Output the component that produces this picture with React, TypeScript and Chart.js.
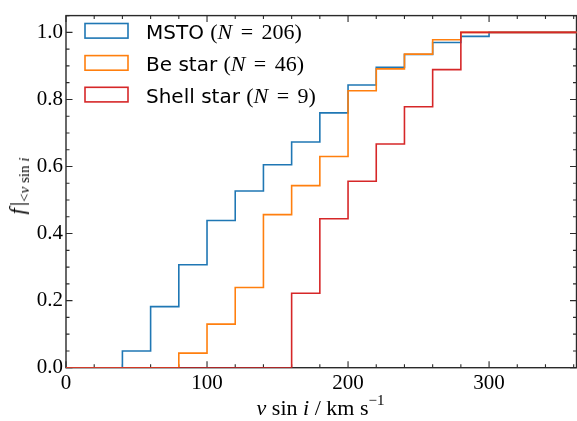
import React, { useEffect, useRef } from "react";
import { Chart, registerables } from "chart.js";

Chart.register(...registerables);

// Bin edges (km/s) of the cumulative histograms
const binEdges = [0, 20, 40, 60, 80, 100, 120, 140, 160, 180, 200, 220, 240, 260, 280, 300, 320, 340, 360, 380];
// Cumulative fraction in each bin [edge_i, edge_i+1)
const mstoFrac = [0, 0, 0.05, 0.182, 0.307, 0.439, 0.527, 0.605, 0.673, 0.76, 0.843, 0.896, 0.934, 0.97, 0.988, 1, 1, 1, 1];
const beFrac = [0, 0, 0, 0, 0.0435, 0.13, 0.239, 0.4565, 0.543, 0.63, 0.826, 0.891, 0.935, 0.978, 1, 1, 1, 1, 1];
const shellFrac = [0, 0, 0, 0, 0, 0, 0, 0, 0.222, 0.444, 0.556, 0.667, 0.778, 0.889, 1, 1, 1, 1, 1];

const seriesNames = ["MSTO", "Be star", "Shell star"];
const seriesCounts = [206, 46, 9];

const xTickValues = [0, 100, 200, 300];
const yTickValues = [0, 0.2, 0.4, 0.6, 0.8, 1.0];
const xLimits = [0, 362];
const yLimits = [0, 1.05];
const xMinorStep = 20;
const yMinorStep = 0.05;

const colors = ["#1f77b4", "#ff7f0e", "#d62728"];
const serif = "'Liberation Serif', 'DejaVu Serif', serif";
const sans = "'DejaVu Sans', sans-serif";

// legend layout (pixels)
const legendLeft = 85;
const legendHandleW = 43;
const legendHandleH = 14.6;
const legendRowCenters = [30.8, 62.9, 94.6];

function toPoints(vals: number[]) {
  return binEdges.map((x, i) => ({ x, y: vals[Math.min(i, vals.length - 1)] }));
}

const framePlugin = {
  id: "frameTicks",
  beforeDatasetsDraw(chart: any) {
    const { ctx, chartArea: a, scales } = chart;
    const xs = scales.x;
    const ys = scales.y;
    ctx.save();
    ctx.strokeStyle = "#2a2a2a";
    ctx.lineWidth = 1.4;
    ctx.strokeRect(a.left, a.top, a.right - a.left, a.bottom - a.top);
    const major = 6.5;
    const minor = 3.5;
    ctx.lineWidth = 1.1;
    ctx.beginPath();
    for (let v = xLimits[0]; v <= xLimits[1] + 1e-9; v += xMinorStep) {
      const isMajor = xTickValues.some((t) => Math.abs(t - v) < 1e-6);
      const len = isMajor ? major : minor;
      const px = xs.getPixelForValue(v);
      ctx.moveTo(px, a.bottom);
      ctx.lineTo(px, a.bottom - len);
      ctx.moveTo(px, a.top);
      ctx.lineTo(px, a.top + len);
    }
    for (let k = 0; k * yMinorStep <= yLimits[1] + 1e-9; k++) {
      const v = k * yMinorStep;
      const isMajor = yTickValues.some((t) => Math.abs(t - v) < 1e-6);
      const len = isMajor ? major : minor;
      const py = ys.getPixelForValue(v);
      ctx.moveTo(a.left, py);
      ctx.lineTo(a.left + len, py);
      ctx.moveTo(a.right, py);
      ctx.lineTo(a.right - len, py);
    }
    ctx.stroke();
    ctx.restore();
  },
  afterDraw(chart: any) {
    const { ctx } = chart;
    ctx.save();
    ctx.lineWidth = 1.6;
    legendRowCenters.forEach((cy, i) => {
      ctx.strokeStyle = colors[i];
      ctx.strokeRect(legendLeft, cy - legendHandleH / 2, legendHandleW, legendHandleH);
    });
    ctx.restore();
  },
};

export default function App() {
  const ref = useRef<HTMLCanvasElement | null>(null);

  useEffect(() => {
    if (!ref.current) return;
    const allFrac = [mstoFrac, beFrac, shellFrac];
    const chart = new Chart(ref.current, {
      type: "line",
      data: {
        datasets: allFrac.map((vals, i) => ({
          label: seriesNames[i],
          data: toPoints(vals),
          borderColor: colors[i],
          backgroundColor: colors[i],
          borderWidth: 1.6,
          stepped: "before" as const,
          pointRadius: 0,
          fill: false,
          order: 3 - i,
        })),
      },
      options: {
        animation: false,
        responsive: false,
        layout: { padding: { left: 0, right: 0.5, top: 3.2, bottom: 0 } },
        plugins: { legend: { display: false }, tooltip: { enabled: false } },
        scales: {
          x: {
            type: "linear",
            min: xLimits[0],
            max: xLimits[1],
            grid: { display: false, drawTicks: false },
            border: { display: false },
            ticks: {
              color: "#000",
              font: { family: serif, size: 21 },
              padding: 3,
              autoSkip: false,
              maxRotation: 0,
              callback: (v: any) => String(v),
            },
            afterBuildTicks: (s: any) => {
              s.ticks = xTickValues.map((value) => ({ value }));
            },
            afterFit: (s: any) => {
              s.height = 53.3;
            },
          },
          y: {
            type: "linear",
            min: yLimits[0],
            max: yLimits[1],
            grid: { display: false, drawTicks: false },
            border: { display: false },
            ticks: {
              color: "#000",
              font: { family: serif, size: 21 },
              padding: 3,
              autoSkip: false,
              callback: (v: any) => Number(v).toFixed(1),
            },
            afterBuildTicks: (s: any) => {
              s.ticks = yTickValues.map((value) => ({ value }));
            },
            afterFit: (s: any) => {
              s.width = 66;
            },
          },
        },
      },
      plugins: [framePlugin],
    });
    return () => chart.destroy();
  }, []);

  return (
    <div style={{ position: "fixed", left: 0, top: 0, width: 577, height: 421, background: "#fff", overflow: "hidden" }}>
      <canvas ref={ref} width={577} height={421} style={{ position: "absolute", left: 0, top: 0, width: 577, height: 421 }} />
      {seriesNames.map((name, i) => (
        <div
          key={name}
          style={{
            position: "absolute",
            left: 146,
            top: legendRowCenters[i] - 10,
            height: 20,
            display: "flex",
            alignItems: "center",
            whiteSpace: "nowrap",
          }}
        >
          <div style={{ lineHeight: 1, position: "relative", top: 1, color: "#000" }}>
            <span style={{ fontFamily: sans, fontSize: 20 }}>{name} </span>
            <span style={{ fontFamily: serif, fontSize: 22 }}>
              (<i>N</i>
              <span style={{ margin: "0 0.38em" }}>=</span>
              {seriesCounts[i]})
            </span>
          </div>
        </div>
      ))}
      <div
        style={{
          position: "absolute",
          left: 17,
          top: 185.5,
          transform: "translate(-50%, -50%) rotate(-90deg)",
          whiteSpace: "nowrap",
          fontFamily: serif,
          fontSize: 22,
          lineHeight: 1,
          color: "#000",
        }}
      >
        <i>f</i>
        <span style={{ marginLeft: 2 }}>|</span>
        <span style={{ fontSize: 15, position: "relative", top: 5 }}>
          &lt;<i>v</i> sin <i>i</i>
        </span>
      </div>
      <div
        style={{
          position: "absolute",
          left: 320.5,
          top: 397,
          transform: "translateX(-50%)",
          whiteSpace: "nowrap",
          fontFamily: serif,
          fontSize: 22,
          lineHeight: 1,
          color: "#000",
        }}
      >
        <i>v</i> sin <i>i</i> / km s<sup style={{ fontSize: 15, lineHeight: 0, position: "relative", top: -2 }}>−1</sup>
      </div>
    </div>
  );
}
